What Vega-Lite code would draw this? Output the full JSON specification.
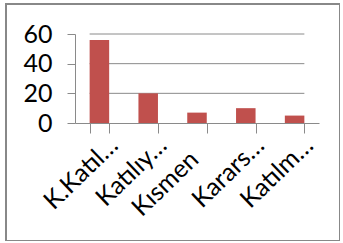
{
  "$schema": "https://vega.github.io/schema/vega-lite/v6.json",
  "width": 334,
  "height": 237,
  "autosize": "none",
  "padding": {"left": 6, "top": 4, "right": 0, "bottom": 0},
  "background": "white",
  "config": {
    "view": {"stroke": "#888888", "strokeWidth": 2},
    "font": "Lato"
  },
  "layer": [
    {
      "data": {"values": [{"value": 20}, {"value": 40}, {"value": 60}]},
      "mark": {"type": "rule", "color": "#8a8a8a", "strokeWidth": 1},
      "encoding": {
        "x": {"datum": "K.Katıl…", "type": "nominal", "bandPosition": 0},
        "x2": {"datum": "Katılm…", "bandPosition": 1},
        "y": {"field": "value", "type": "quantitative"}
      }
    },
    {
      "data": {
        "values": [
          {"cat": "K.Katıl…", "value": 56},
          {"cat": "Katılıy…", "value": 20},
          {"cat": "Kısmen", "value": 7},
          {"cat": "Karars…", "value": 10},
          {"cat": "Katılm…", "value": 5}
        ]
      },
      "mark": {"type": "bar", "color": "#C0504D"},
      "encoding": {
        "x": {
          "field": "cat",
          "type": "nominal",
          "sort": null,
          "scale": {
            "domain": ["K.Katıl…", "Katılıy…", "Kısmen", "Karars…", "Katılm…"],
            "range": [69, 313],
            "paddingInner": 0.6,
            "paddingOuter": 0.3
          },
          "axis": {
            "title": null,
            "orient": "bottom",
            "offset": -118,
            "domainColor": "#8a8a8a",
            "tickColor": "#8a8a8a",
            "tickSize": 10,
            "tickBand": "extent",
            "labelAngle": -44,
            "labelAlign": "right",
            "labelBaseline": "middle",
            "labelFontSize": 25,
            "labelColor": "#000000",
            "labelPadding": {"condition": {"test": "datum.value === 'Kısmen'", "value": 22}, "value": 8},
            "labelOffset": {"condition": {"test": "datum.value === 'Kısmen'", "value": -3}, "value": 14},
            "labelLimit": 300
          }
        },
        "y": {
          "field": "value",
          "type": "quantitative",
          "scale": {"domain": [0, 60], "range": [119, 30], "nice": false},
          "axis": {
            "title": null,
            "orient": "left",
            "offset": -69,
            "values": [0, 20, 40, 60],
            "grid": false,
            "domainColor": "#8a8a8a",
            "tickColor": "#8a8a8a",
            "tickSize": 8,
            "labelFontSize": 25,
            "labelColor": "#000000",
            "labelPadding": 15
          }
        }
      }
    }
  ]
}
